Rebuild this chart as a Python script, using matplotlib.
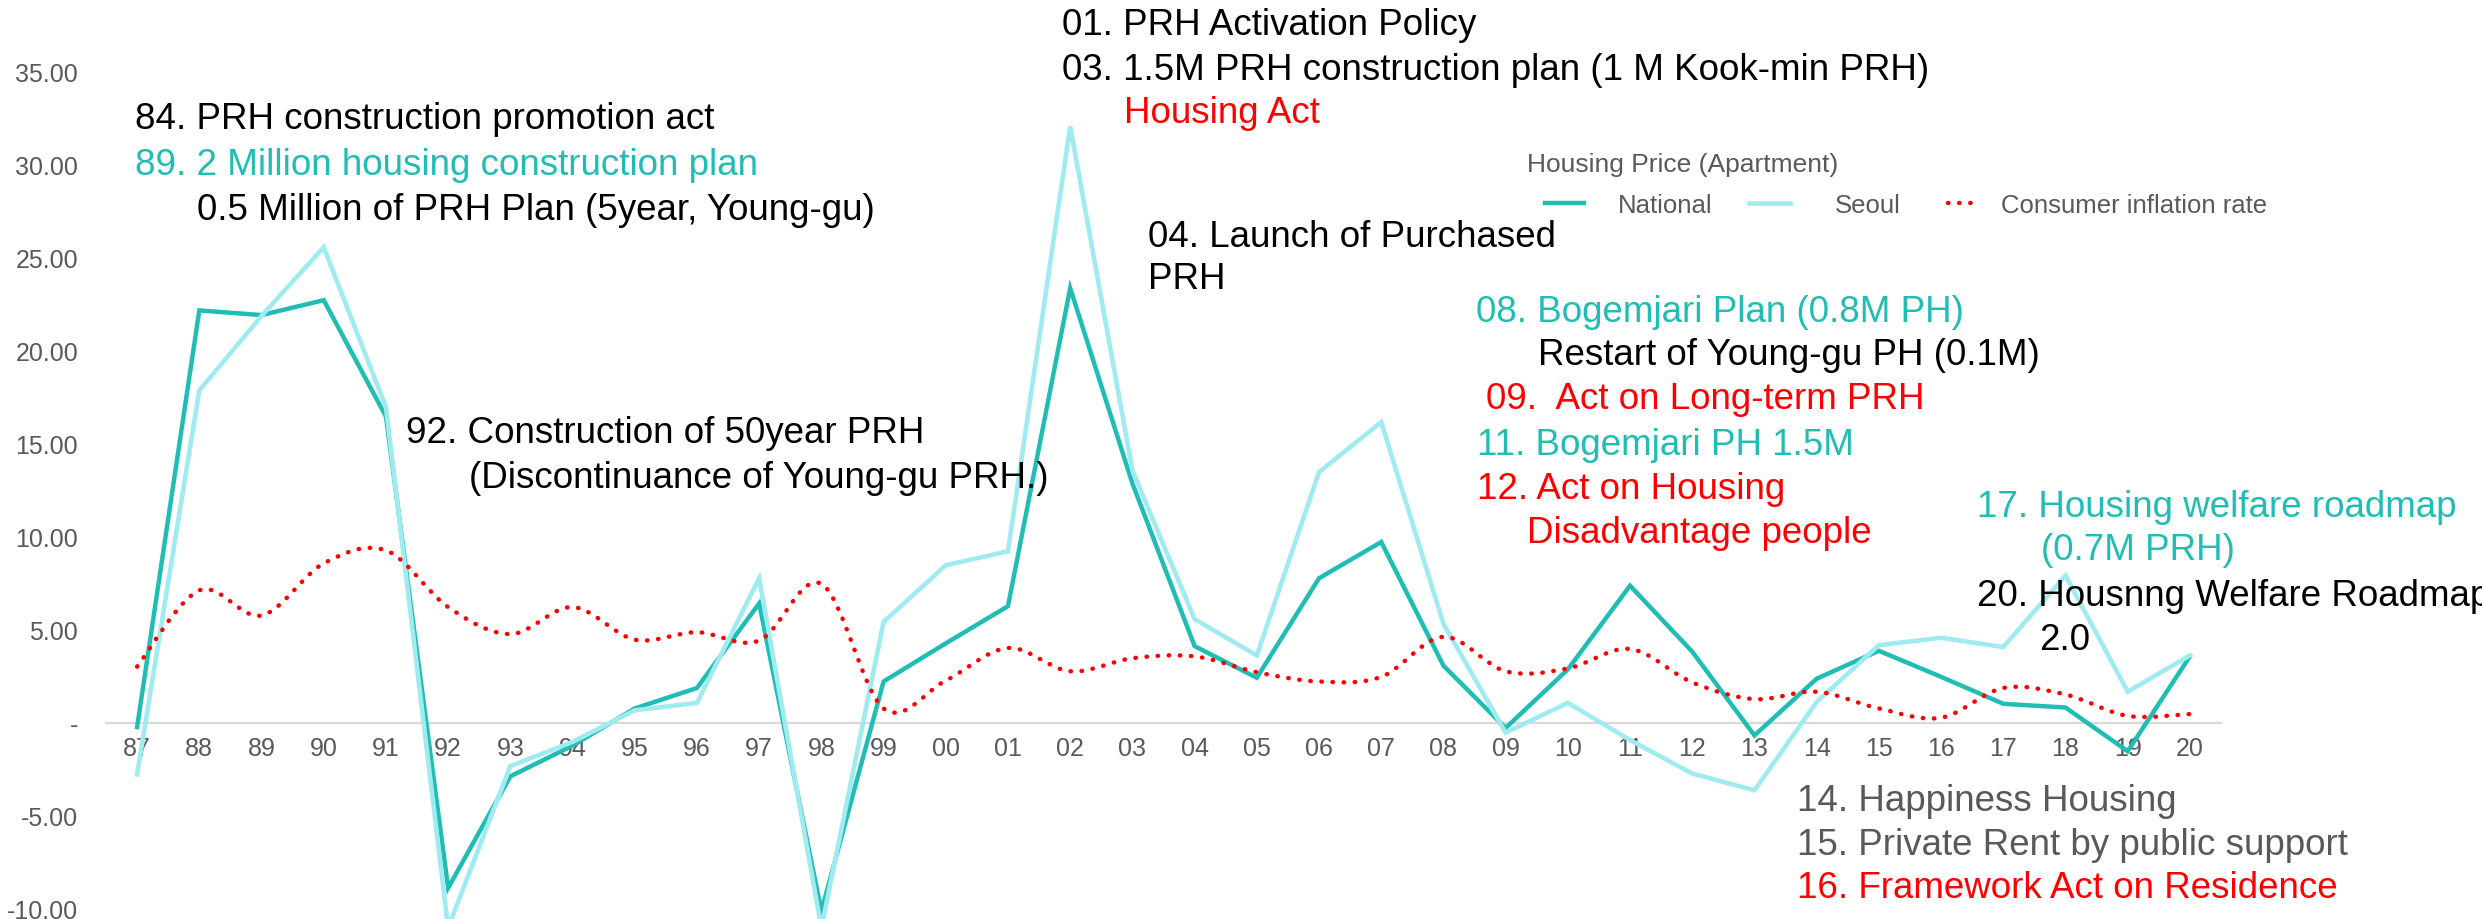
import matplotlib
matplotlib.use("Agg")
import matplotlib.pyplot as plt
from matplotlib.lines import Line2D
from matplotlib.patches import PathPatch
from matplotlib.path import Path
from matplotlib.ticker import FuncFormatter

plt.rcParams["font.family"] = ["Liberation Sans", "DejaVu Sans"]

years = ["87", "88", "89", "90", "91", "92", "93", "94", "95", "96", "97", "98", "99",
         "00", "01", "02", "03", "04", "05", "06", "07", "08", "09", "10", "11", "12",
         "13", "14", "15", "16", "17", "18", "19", "20"]
national = [-0.2, 22.2, 21.95, 22.75, 16.5, -8.85, -2.85, -1.2, 0.8, 1.9, 6.45, -10.1, 2.25,
            4.3, 6.3, 23.4, 12.9, 4.15, 2.45, 7.8, 9.75, 3.1, -0.25, 2.9, 7.4, 3.85,
            -0.65, 2.4, 3.9, 2.5, 1.05, 0.85, -1.5, 3.6]
seoul = [-2.75, 17.9, 21.9, 25.6, 17.0, -11.0, -2.3, -1.0, 0.7, 1.1, 7.8, -11.0, 5.45,
         8.5, 9.25, 32.1, 13.6, 5.6, 3.65, 13.5, 16.2, 5.35, -0.5, 1.1, -0.9, -2.7,
         -3.6, 1.15, 4.2, 4.6, 4.1, 7.95, 1.7, 3.65]
inflation = [3.05, 7.15, 5.8, 8.6, 9.3, 6.25, 4.8, 6.25, 4.5, 4.9, 4.45, 7.5, 0.8,
             2.3, 4.05, 2.8, 3.5, 3.6, 2.75, 2.25, 2.5, 4.65, 2.8, 2.95, 4.0, 2.2,
             1.3, 1.7, 0.8, 0.3, 1.9, 1.55, 0.4, 0.5]

# policy notes: (x px, baseline px, text, colour)
TEAL = "#1FBDB3"
LIGHT = "#A0EBEF"
RED = "#FF0000"
GREY = "#595959"
notes = [
    (135, 129, "84. PRH construction promotion act", "black"),
    (135, 175, "89. 2 Million housing construction plan", TEAL),
    (197, 220, "0.5 Million of PRH Plan (5year, Young-gu)", "black"),
    (406, 443, "92. Construction of 50year PRH", "black"),
    (469, 488, "(Discontinuance of Young-gu PRH.)", "black"),
    (1062, 35, "01. PRH Activation Policy", "black"),
    (1062, 80, "03. 1.5M PRH construction plan (1 M Kook-min PRH)", "black"),
    (1124, 123, "Housing Act", RED),
    (1148, 247, "04. Launch of Purchased", "black"),
    (1148, 289, "PRH", "black"),
    (1476, 322, "08. Bogemjari Plan (0.8M PH)", TEAL),
    (1538, 365, "Restart of Young-gu PH (0.1M)", "black"),
    (1486, 409, "09.  Act on Long-term PRH", RED),
    (1477, 455, "11. Bogemjari PH 1.5M", TEAL),
    (1477, 499, "12. Act on Housing", RED),
    (1527, 543, "Disadvantage people", RED),
    (1977, 517, "17. Housing welfare roadmap", TEAL),
    (2041, 560, "(0.7M PRH)", TEAL),
    (1977, 606, "20. Housnng Welfare Roadmap", "black"),
    (2039, 650, "2.0", "black"),
    (1797, 811, "14. Happiness Housing", GREY),
    (1797, 855, "15. Private Rent by public support", GREY),
    (1797, 898, "16. Framework Act on Residence", RED),
]

W, H = 2482, 919
fig = plt.figure(figsize=(W / 100, H / 100), dpi=100)
ax = fig.add_axes([106 / W, 0, (2221 - 106) / W, 1])

x = list(range(len(years)))
ax.plot(x, national, color=TEAL, lw=3.2, solid_joinstyle="miter", zorder=3)
ax.plot(x, seoul, color=LIGHT, lw=3.3, solid_joinstyle="miter", zorder=4)

# smoothed dotted inflation line (Catmull-Rom -> cubic Bezier, like Excel smoothing)
verts = [(x[0], inflation[0])]
codes = [Path.MOVETO]
n = len(x)
for i in range(n - 1):
    p0 = (x[max(i - 1, 0)], inflation[max(i - 1, 0)])
    p1 = (x[i], inflation[i])
    p2 = (x[i + 1], inflation[i + 1])
    p3 = (x[min(i + 2, n - 1)], inflation[min(i + 2, n - 1)])
    c1 = (p1[0] + (p2[0] - p0[0]) / 6, p1[1] + (p2[1] - p0[1]) / 6)
    c2 = (p2[0] - (p3[0] - p1[0]) / 6, p2[1] - (p3[1] - p1[1]) / 6)
    verts += [c1, c2, p2]
    codes += [Path.CURVE4] * 3
patch = PathPatch(Path(verts, codes), fill=False, edgecolor=RED, lw=3.2,
                  linestyle=(0, (0.1, 2.4)), capstyle="round", zorder=5)
ax.add_patch(patch)

ax.set_xlim(-0.5, 33.5)
ax.set_ylim(-10.52, 38.89)
ax.set_xticks(x)
ax.set_xticklabels(years)
ax.set_yticks(range(-10, 40, 5))
ax.yaxis.set_major_formatter(FuncFormatter(lambda v, _: "-" if v == 0 else f"{v:.2f}"))
ax.tick_params(axis="x", length=0, pad=10, labelsize=18, labelcolor=GREY)
ax.tick_params(axis="y", length=0, pad=20, labelsize=18, labelcolor=GREY)
for s in ["top", "right", "left"]:
    ax.spines[s].set_visible(False)
ax.spines["bottom"].set_position(("data", 0))
ax.spines["bottom"].set_color("#D9D9D9")
ax.spines["bottom"].set_linewidth(1.6)
ax.patch.set_alpha(0)

for nx, ny, txt, col in notes:
    fig.text(nx / W, 1 - ny / H, txt, color=col, fontsize=26.5, va="baseline", ha="left")

# legend drawn by hand to sit where the original one is
fig.text(1527 / W, 1 - 172 / H, "Housing Price (Apartment)", color=GREY, fontsize=19, va="baseline")
leg = [
    (1545, 1584, 1618, "National", dict(color=TEAL, lw=3.2)),
    (1749, 1790, 1835, "Seoul", dict(color=LIGHT, lw=3.3)),
    (1948, 1976, 2001, "Consumer inflation rate",
     dict(color=RED, lw=3.2, linestyle=(0, (0.1, 2.4)), dash_capstyle="round")),
]
for x0, x1, tx, label, style in leg:
    fig.add_artist(Line2D([x0 / W, x1 / W], [1 - 203 / H] * 2, transform=fig.transFigure, **style))
    fig.text(tx / W, 1 - 213 / H, label, color=GREY, fontsize=18.5, va="baseline")

fig.savefig("out.png", dpi=100)
plt.close(fig)
